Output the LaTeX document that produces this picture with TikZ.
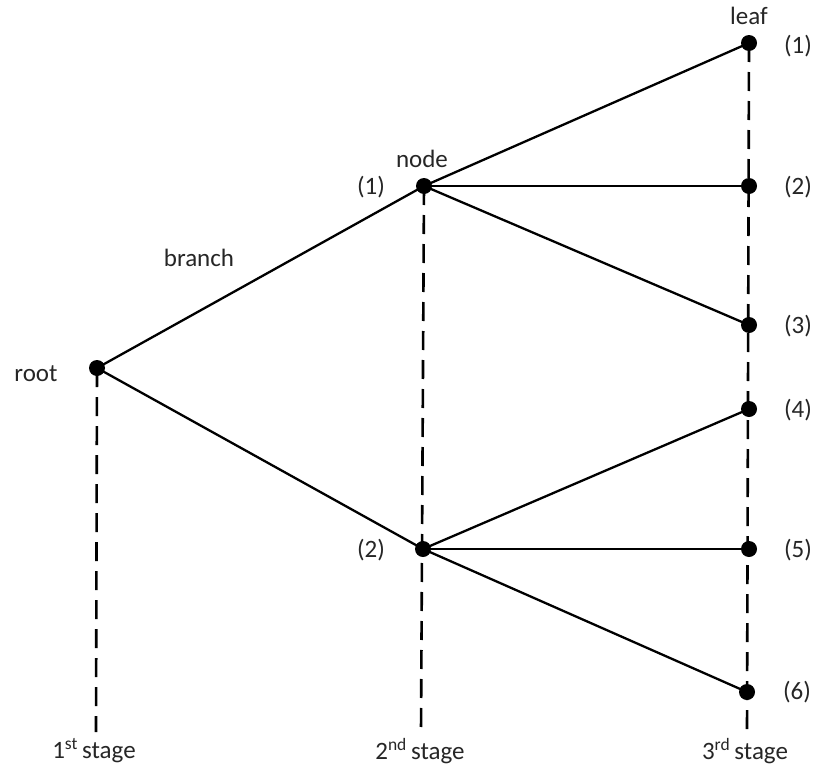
\documentclass[tikz,border=0pt]{standalone}
\usepackage{fontspec}
\setmainfont{Carlito}
\begin{document}
\begin{tikzpicture}[x=1pt,y=-1pt,
  dot/.style={circle,fill=black,inner sep=0pt,minimum size=16pt},
  edge/.style={line width=2.3pt},
  stageline/.style={line width=2.6pt,dash pattern=on 19pt off 10pt},
  lbl/.style={font=\fontsize{25}{29}\selectfont,text=black!85,inner sep=0pt}]
\useasboundingbox (0,0) rectangle (817,771);
% nodes
\node[dot] (r) at (97,368) {};
\node[dot] (n1) at (424,186) {};
\node[dot] (n2) at (423,549) {};
\node[dot] (l1) at (749,43) {};
\node[dot] (l2) at (749,186) {};
\node[dot] (l3) at (749,325) {};
\node[dot] (l4) at (749,409) {};
\node[dot] (l5) at (749,549) {};
\node[dot] (l6) at (747,692) {};
\coordinate (b1) at (96,732);
\coordinate (b2) at (421,732);
\coordinate (b3) at (747,732);
% stage lines
\draw[stageline] (r.center) -- (b1);
\draw[stageline] (n1.center) -- (b2);
\draw[stageline] (l1.center) -- (b3);
% edges
\draw[edge] (r.center) -- (n1.center);
\draw[edge] (r.center) -- (n2.center);
\foreach \l in {l1,l2,l3} \draw[edge] (n1.center) -- (\l.center);
\foreach \l in {l4,l5,l6} \draw[edge] (n2.center) -- (\l.center);
% labels
\node[lbl] (troot) at (36,374) {root};
\node[lbl] (tnode) at (422,159) {node};
\node[lbl] (tleaf) at (749,16) {leaf};
\node[lbl] (tbranch) at (199,258) {branch};
\node[lbl] (tn1) at (371,187) {(1)};
\node[lbl] (tn2) at (371,550) {(2)};
\node[lbl] (t1) at (798,46) {(1)};
\node[lbl] (t2) at (798,187) {(2)};
\node[lbl] (t3) at (798,326) {(3)};
\node[lbl] (t4) at (798,410) {(4)};
\node[lbl] (t5) at (798,550) {(5)};
\node[lbl] (t6) at (797,692) {(6)};
\node[lbl] (s1) at (94,751) {1\textsuperscript{st}\,stage};
\node[lbl] (s2) at (420,751) {2\textsuperscript{nd}\,stage};
\node[lbl] (s3) at (745,751) {3\textsuperscript{rd}\,stage};
\end{tikzpicture}
\end{document}
